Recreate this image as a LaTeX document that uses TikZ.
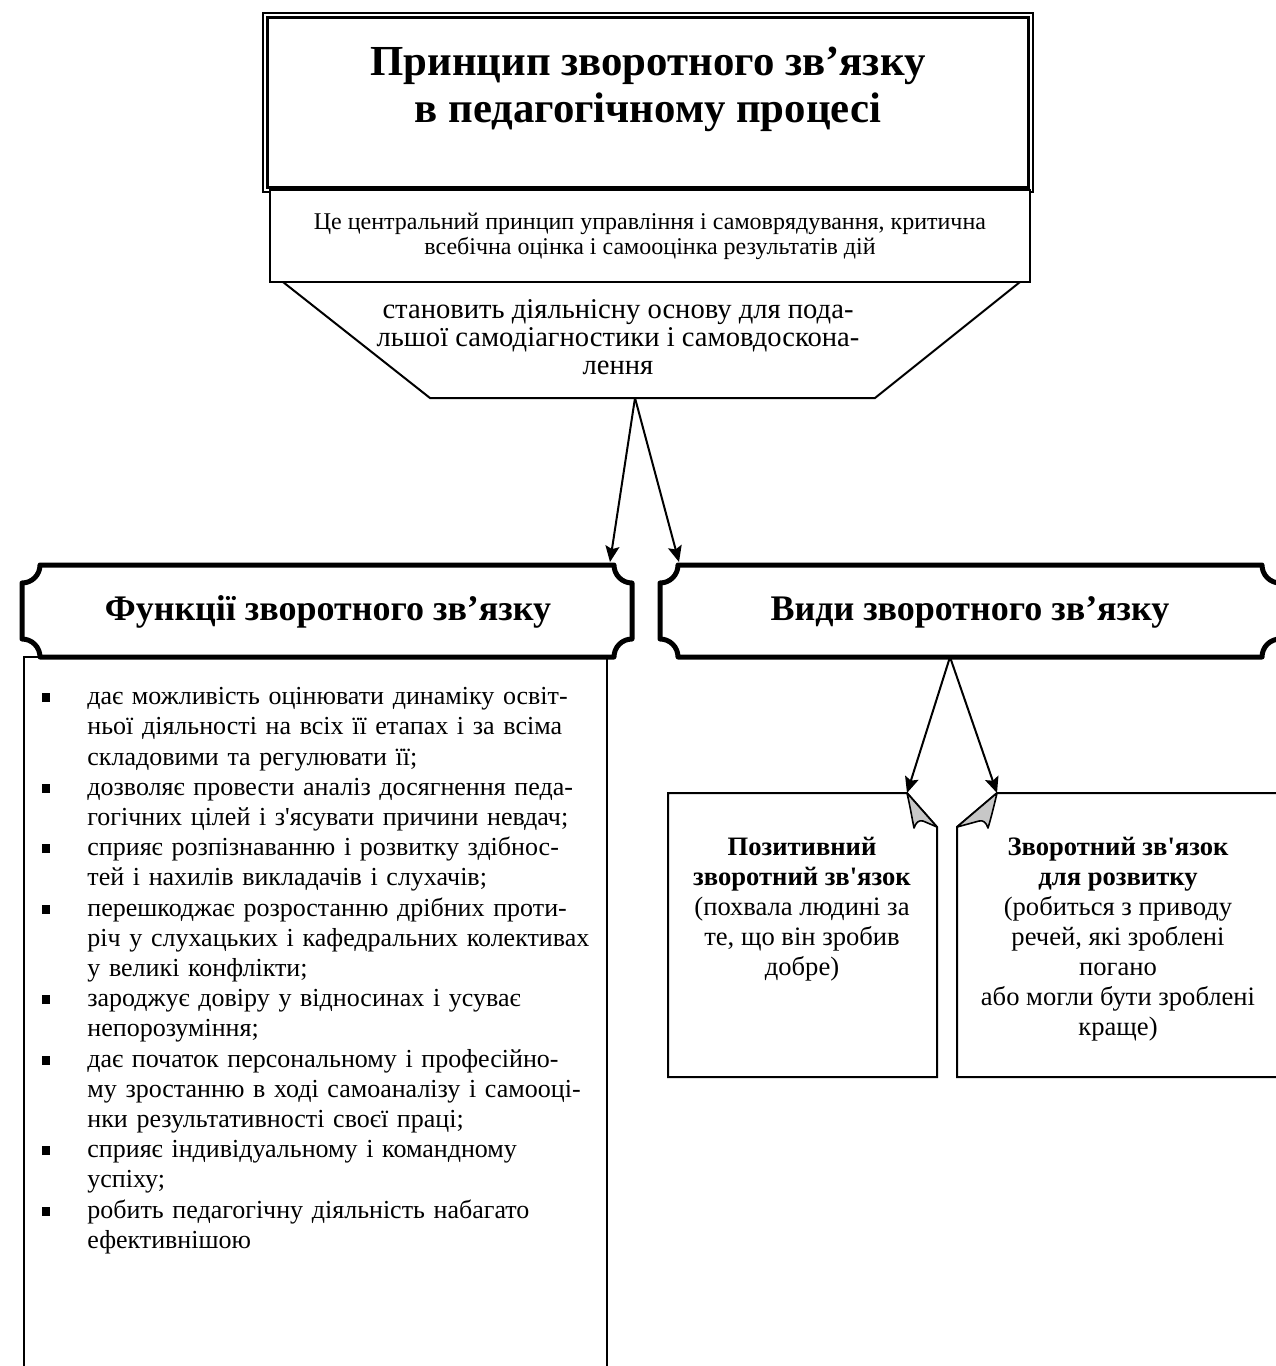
\documentclass[tikz,border=0pt]{standalone}
\usepackage{fontspec}
\setmainfont{Liberation Serif}[Ligatures=TeXOff]
\usetikzlibrary{arrows.meta}

\newcommand\plaquepath[4]{(#1+18,#2) -- (#3-18,#2) arc[start angle=180,end angle=90,radius=18]
  -- (#3,#4-18) arc[start angle=270,end angle=180,radius=18]
  -- (#1+18,#4) arc[start angle=0,end angle=-90,radius=18]
  -- (#1,#2+18) arc[start angle=90,end angle=0,radius=18] -- cycle}
\newcommand\boxhead[1]{\textbf{#1}}

\begin{document}
\begin{tikzpicture}[x=0.5pt, y=-0.5pt,
  box/.style={draw, line width=1pt, line join=miter},
  link/.style={line width=1pt, -{Stealth[length=8pt, width=7pt, inset=1.5pt]}},
  plaque/.style={line width=2.5pt, line join=round},
  flap/.style={draw, fill=black!22, line width=0.8pt, line join=round},
  headtext/.style={font=\fontsize{18}{21}\selectfont\bfseries},
  plain/.style={align=center, inner sep=0pt}]
\useasboundingbox (0,0) rectangle (1275,1366);

\node[draw, line width=0.8pt, minimum width=385pt, minimum height=89.5pt] (titlebox) at (648,102.5) {};
\draw[line width=1.6pt] ([shift={(2.5pt,-2.5pt)}]titlebox.north west) rectangle ([shift={(-2.5pt,2.5pt)}]titlebox.south east);
\node[plain, font=\fontsize{21.4}{23.5}\selectfont\bfseries] (title) at (648,89)
  {Принцип зворотного зв’язку\\в педагогічному процесі};

\node[box, fill=white, minimum width=380pt, minimum height=46pt, align=center,
  font=\fontsize{12}{12.5}\selectfont] (desc) at (650,236)
  {Це центральний принцип управління і самоврядування, критична\\всебічна оцінка і самооцінка результатів дій};

\draw[line width=1pt, line join=miter] (283,282) -- (430,398) -- (875,398) -- (1020,282);
\node[plain, font=\fontsize{14.3}{14}\selectfont] (basis) at (618,337)
  {становить діяльнісну основу для пода-\\льшої самодіагностики і самовдоскона-\\лення};
\coordinate (basisfoot) at (635,398);

\draw[plaque] \plaquepath{22}{565}{632}{657};
\draw[plaque] \plaquepath{660}{565}{1280}{657};
\node[headtext] (funchead) at (328,612) {Функції зворотного зв’язку};
\node[headtext] (kindhead) at (970,612) {Види зворотного зв’язку};
\coordinate (funcjoin) at (610,562);
\coordinate (kindjoin) at (679,562);
\coordinate (kindfoot) at (950,657);

\draw[line width=1.25pt] (24,1380) -- (24,657) -- (607,657) -- (607,1380);
\node[anchor=north west, inner sep=0pt, text width=320pt, align=left,
  font=\fontsize{13}{15.1}\selectfont] (funclist) at (30,674) {%
  \begin{list}{\rule[1.2pt]{4pt}{4.5pt}}{\setlength\leftmargin{28.5pt}\setlength\labelwidth{8pt}%
    \setlength\labelsep{18.5pt}\setlength\itemsep{0pt}\setlength\parsep{0pt}%
    \setlength\topsep{0pt}\setlength\partopsep{0pt}}
  \item дає можливість оцінювати динаміку освіт-\\ньої діяльності на всіх її етапах і за всіма\\складовими та регулювати її;
  \item дозволяє провести аналіз досягнення педа-\\гогічних цілей і з'ясувати причини невдач;
  \item сприяє розпізнаванню і розвитку здібнос-\\тей і нахилів викладачів і слухачів;
  \item перешкоджає розростанню дрібних проти-\\річ у слухацьких і кафедральних колективах\\у великі конфлікти;
  \item зароджує довіру у відносинах і усуває\\непорозуміння;
  \item дає початок персональному і професійно-\\му зростанню в ході самоаналізу і самооці-\\нки результативності своєї праці;
  \item сприяє індивідуальному і командному\\успіху;
  \item робить педагогічну діяльність набагато\\ефективнішою
  \end{list}};

\draw[box] (668,793) -- (907,793) -- (937,827) -- (937,1077) -- (668,1077) -- cycle;
\filldraw[flap] (907,793) .. controls (910,806) and (912,818) .. (914,828)
  .. controls (916,822) and (919,820) .. (923,821) -- (937,827) -- cycle;
\draw[box] (1290,793) -- (997,793) -- (957,827) -- (957,1077) -- (1290,1077);
\filldraw[flap] (997,793) .. controls (994,806) and (991,818) .. (988,828)
  .. controls (986,822) and (983,820) .. (979,821) -- (957,827) -- cycle;
\node[plain, font=\fontsize{13.3}{15}\selectfont] (posbox) at (802,909)
  {\boxhead{Позитивний}\\\boxhead{зворотний зв'язок}\\(похвала людині за\\те, що він зробив\\добре)};
\node[plain, font=\fontsize{13.3}{15}\selectfont] (devbox) at (1118,939)
  {\boxhead{Зворотний зв'язок}\\\boxhead{для розвитку}\\(робиться з приводу\\речей, які зроблені\\погано\\або могли бути зроблені\\краще)};
\coordinate (posjoin) at (907,793);
\coordinate (devjoin) at (997,793);

\begin{scope}[link]
\draw (basisfoot) -- (funcjoin);
\draw (basisfoot) -- (kindjoin);
\draw (kindfoot) -- (posjoin);
\draw (kindfoot) -- (devjoin);
\end{scope}
\end{tikzpicture}
\end{document}
